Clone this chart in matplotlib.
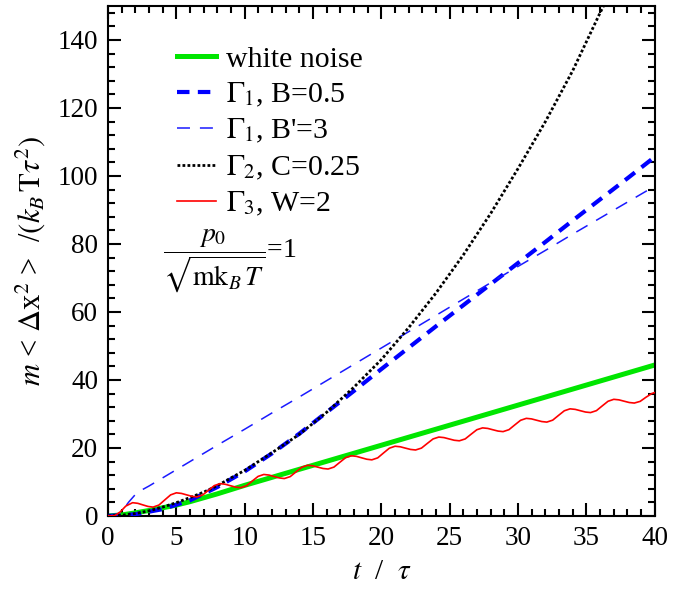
import matplotlib
matplotlib.use("Agg")
import matplotlib.pyplot as plt
from matplotlib.ticker import MultipleLocator

plt.rcParams["font.family"] = ["Liberation Serif", "DejaVu Serif"]
plt.rcParams["mathtext.fontset"] = "stix"

# white noise
t_white = [0, 1, 2, 3, 4, 5, 6, 8, 10, 15, 20, 25, 30, 35, 40]
v_white = [0, 0.3, 0.9, 1.6, 2.4, 3.2, 4.2, 6.5, 9.0, 14.9, 20.8, 26.7, 32.6, 38.5, 44.4]

# Gamma_1, B = 0.5
t_g1 = [0, 2, 4, 6, 8, 10, 12, 14, 16, 18, 20, 22, 24, 26, 28, 30, 32, 34, 36, 38, 40]
v_g1 = [0, 0.5, 2.0, 4.6, 8.5, 13.1, 18.4, 24.2, 30.5, 36.8, 43.2, 49.5, 55.8,
        62.0, 68.2, 74.4, 80.6, 86.9, 93.1, 99.3, 105.6]

# Gamma_1, B' = 3
t_g1b = [0, 0.5, 1.0, 1.5, 2.0, 2.5, 3, 4, 5, 6, 8, 10, 12, 14, 16, 18, 20, 22,
         24, 26, 28, 30, 32, 34, 36, 38, 40]
v_g1b = [0, 0.1, 1.2, 4.0, 6.3, 7.7, 8.8, 11.2, 13.6, 16.0, 20.8, 25.5, 30.3,
         35.0, 39.8, 44.6, 49.4, 54.2, 59.0, 63.8, 68.6, 73.4, 78.1, 82.9, 87.6,
         92.3, 97.0]

# Gamma_2, C = 0.25
t_g2 = [0, 1, 2, 3, 4, 5, 6, 7, 8, 9, 10, 12, 14, 16, 18, 20, 22, 24, 26, 28,
        30, 32, 34, 36, 37]
v_g2 = [0, 0.2, 0.7, 1.5, 2.6, 3.9, 5.4, 7.0, 8.9, 11.2, 13.4, 18.6, 24.0, 30.5,
        37.9, 46.0, 55.4, 65.6, 76.8, 89.0, 102.2, 116.0, 131.0, 148.0, 156.0]

# Gamma_3, W = 2
t_g3 = [0, 0.5, 0.9, 1.3, 1.8,
        2.18, 2.55, 2.93, 3.3, 3.73, 4.15, 4.58, 5.0,
        5.38, 5.75, 6.13, 6.5, 6.93, 7.35, 7.78, 8.2,
        8.58, 8.95, 9.33, 9.7, 10.13, 10.55, 10.98, 11.4,
        11.78, 12.15, 12.53, 12.9, 13.33, 13.75, 14.18, 14.6,
        14.98, 15.35, 15.73, 16.1, 16.53, 16.95, 17.38, 17.8,
        18.18, 18.55, 18.93, 19.3, 19.73, 20.15, 20.58, 21.0,
        21.38, 21.75, 22.13, 22.5, 22.93, 23.35, 23.78, 24.2,
        24.58, 24.95, 25.33, 25.7, 26.13, 26.55, 26.98, 27.4,
        27.78, 28.15, 28.53, 28.9, 29.33, 29.75, 30.18, 30.6,
        30.98, 31.35, 31.73, 32.1, 32.53, 32.95, 33.38, 33.8,
        34.18, 34.55, 34.93, 35.3, 35.73, 36.15, 36.58, 37.0,
        37.38, 37.75, 38.13, 38.5, 38.93, 39.35, 39.78, 40.0]
v_g3 = [0, 0.1, 1.2, 2.9, 3.9,
        3.71, 3.25, 2.79, 2.6, 3.21, 4.7, 6.19, 6.8,
        6.62, 6.2, 5.78, 5.6, 6.17, 7.55, 8.93, 9.5,
        9.32, 8.9, 8.48, 8.3, 8.87, 10.25, 11.63, 12.2,
        12.02, 11.6, 11.18, 11.0, 11.57, 12.95, 14.33, 14.9,
        14.74, 14.35, 13.96, 13.8, 14.37, 15.75, 17.13, 17.7,
        17.52, 17.1, 16.68, 16.5, 17.08, 18.5, 19.92, 20.5,
        20.34, 19.95, 19.56, 19.4, 19.95, 21.3, 22.65, 23.2,
        23.04, 22.65, 22.26, 22.1, 22.65, 24.0, 25.35, 25.9,
        25.74, 25.35, 24.96, 24.8, 25.37, 26.75, 28.13, 28.7,
        28.54, 28.15, 27.76, 27.6, 28.17, 29.55, 30.93, 31.5,
        31.34, 30.95, 30.56, 30.4, 30.97, 32.35, 33.73, 34.3,
        34.14, 33.75, 33.36, 33.2, 33.7, 34.9, 36.0, 36.3]

fig = plt.figure(figsize=(6.9, 5.91), dpi=100)
ax = fig.add_axes([0.1565, 0.127, 0.7925, 0.863])

ax.plot(t_white, v_white, color="#00e600", lw=3.6, label="white noise", zorder=2)
ax.plot(t_g1, v_g1, color="#0000ff", lw=3.0, dashes=(3.0, 2.0),
        label=r"$\Gamma_1$, B=0.5", zorder=3)
ax.plot(t_g1b, v_g1b, color="#1a1aff", lw=1.1, dashes=(8.5, 6.5),
        label=r"$\Gamma_1$, B'=3", zorder=3)
ax.plot(t_g2, v_g2, color="black", lw=2.0, dashes=(1.0, 0.8),
        label=r"$\Gamma_2$, C=0.25", zorder=4)
ax.plot(t_g3, v_g3, color="#ff0000", lw=1.2, label=r"$\Gamma_3$, W=2", zorder=5)

ax.set_xlim(0, 40)
ax.set_ylim(0, 150)
ax.xaxis.set_major_locator(MultipleLocator(5))
ax.xaxis.set_minor_locator(MultipleLocator(1))
ax.yaxis.set_major_locator(MultipleLocator(20))
ax.yaxis.set_minor_locator(MultipleLocator(4))
ax.tick_params(which="both", direction="in", top=True, right=True,
               labelsize=19.5, width=1.5)
ax.tick_params(which="major", length=9.5, pad=7)
ax.tick_params(which="minor", length=5)
for sp in ax.spines.values():
    sp.set_linewidth(1.5)

ax.set_xlabel(r"$t$  /  $\tau$", fontsize=21, labelpad=6)
ax.set_ylabel(r"$m$ < $\Delta$x$^2$ >  /$(k_B\,\mathrm{T}\tau^2)$", fontsize=22,
              labelpad=8)

ax.legend(loc="upper left", bbox_to_anchor=(0.105, 0.945), frameon=False,
          fontsize=21.5, handlelength=1.3, handletextpad=0.33, labelspacing=0.27,
          borderaxespad=0.0)

ax.text(0.1, 0.50, r"$\dfrac{p_0}{\sqrt{\mathrm{mk}_B\,T}}$=1",
        transform=ax.transAxes, fontsize=20, va="center", ha="left")

fig.savefig("out.png", dpi=100)
